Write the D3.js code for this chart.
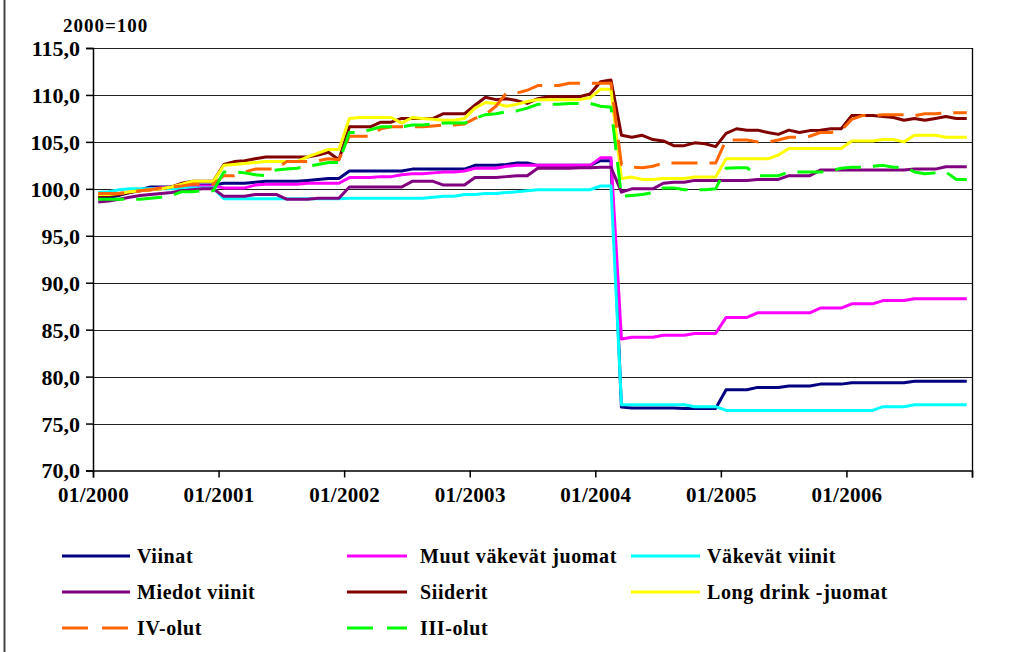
<!DOCTYPE html>
<html>
<head>
<meta charset="utf-8">
<script src="https://cdn.jsdelivr.net/npm/d3@7"></script>
<style>
body { margin: 0; background: #fff; }
text { font-family: "Liberation Serif", "Times New Roman", serif; font-weight: bold; fill: #000; }
</style>
</head>
<body>
<div id="chart"></div>
<script>
var width = 1036,
    height = 652;

// monthly index 2000=100, 01/2000 .. 12/2006
var tickLabels = ["01/2000", "01/2001", "01/2002", "01/2003", "01/2004", "01/2005", "01/2006", ""];
var seriesNames = ["Viinat", "Muut väkevät juomat", "Väkevät viinit", "Miedot viinit",
    "Siiderit", "Long drink -juomat", "IV-olut", "III-olut"];

var viinat = [
    99.0, 99.1, 99.3, 99.6, 99.9, 100.2, 100.2, 100.2, 100.3, 100.4, 100.4, 100.4,
    100.6, 100.6, 100.6, 100.7, 100.8, 100.8, 100.8, 100.8, 100.9, 101.0, 101.1, 101.1,
    101.9, 101.9, 101.9, 101.9, 101.9, 101.9, 102.1, 102.1, 102.1, 102.1, 102.1, 102.1,
    102.5, 102.5, 102.5, 102.6, 102.75, 102.75, 102.5, 102.5, 102.5, 102.5, 102.5, 102.5,
    103.0, 103.0, 76.75, 76.65, 76.65, 76.65, 76.65, 76.65, 76.6, 76.6, 76.6, 76.6,
    78.6, 78.6, 78.6, 78.85, 78.85, 78.85, 79.0, 79.0, 79.0, 79.2, 79.2, 79.2,
    79.35, 79.35, 79.35, 79.35, 79.35, 79.35, 79.5, 79.5, 79.5, 79.5, 79.5, 79.5];
var muutVakevat = [
    99.4, 99.4, 99.5, 99.7, 99.8, 100.0, 100.1, 100.2, 100.3, 100.3, 100.3, 100.3,
    100.1, 100.1, 100.1, 100.4, 100.5, 100.5, 100.5, 100.5, 100.6, 100.6, 100.6, 100.6,
    101.2, 101.2, 101.2, 101.3, 101.3, 101.5, 101.6, 101.6, 101.7, 101.8, 101.8, 101.9,
    102.2, 102.2, 102.2, 102.4, 102.5, 102.5, 102.5, 102.5, 102.5, 102.5, 102.5, 102.5,
    103.3, 103.3, 84.0, 84.2, 84.2, 84.2, 84.4, 84.4, 84.4, 84.6, 84.6, 84.6,
    86.3, 86.3, 86.3, 86.8, 86.8, 86.8, 86.8, 86.8, 86.8, 87.3, 87.3, 87.3,
    87.75, 87.75, 87.75, 88.1, 88.1, 88.1, 88.3, 88.3, 88.3, 88.3, 88.3, 88.3];
var vakevatViinit = [
    99.6, 99.7, 99.9, 100.0, 100.0, 100.0, 100.0, 100.0, 100.1, 100.1, 100.1, 100.1,
    98.95, 98.95, 98.95, 98.95, 98.95, 98.95, 98.95, 98.95, 98.95, 98.95, 98.95, 98.95,
    99.0, 99.0, 99.0, 99.0, 99.0, 99.0, 99.0, 99.0, 99.1, 99.2, 99.2, 99.4,
    99.4, 99.5, 99.5, 99.6, 99.7, 99.8, 99.9, 99.9, 99.9, 99.9, 99.9, 99.9,
    100.3, 100.3, 77.0, 77.0, 77.0, 77.0, 77.0, 77.0, 77.0, 76.8, 76.8, 76.8,
    76.4, 76.4, 76.4, 76.4, 76.4, 76.4, 76.4, 76.4, 76.4, 76.4, 76.4, 76.4,
    76.4, 76.4, 76.4, 76.8, 76.8, 76.8, 77.0, 77.0, 77.0, 77.0, 77.0, 77.0];
var miedotViinit = [
    98.6, 98.7, 98.9, 99.1, 99.3, 99.4, 99.5, 99.6, 99.8, 99.9, 100.0, 100.0,
    99.2, 99.2, 99.2, 99.4, 99.4, 99.4, 98.9, 98.9, 98.9, 99.0, 99.0, 99.0,
    100.2, 100.2, 100.2, 100.2, 100.2, 100.2, 100.8, 100.8, 100.8, 100.4, 100.4, 100.4,
    101.2, 101.2, 101.2, 101.3, 101.4, 101.4, 102.2, 102.2, 102.2, 102.2, 102.25, 102.25,
    102.3, 102.3, 99.65, 100.0, 100.0, 100.0, 100.6, 100.7, 100.7, 100.9, 100.9, 100.9,
    100.9, 100.9, 100.9, 101.0, 101.0, 101.0, 101.4, 101.4, 101.4, 102.0, 102.0, 102.0,
    102.0, 102.0, 102.0, 102.0, 102.0, 102.0, 102.1, 102.1, 102.1, 102.35, 102.35, 102.35];
var siiderit = [
    99.2, 99.3, 99.4, 99.6, 99.8, 99.9, 100.0, 100.2, 100.6, 100.8, 100.8, 100.8,
    102.6, 102.9, 103.0, 103.2, 103.4, 103.4, 103.4, 103.4, 103.4, 103.6, 103.9, 103.1,
    106.6, 106.6, 106.6, 107.1, 107.1, 107.5, 107.5, 107.5, 107.5, 108.0, 108.0, 108.0,
    108.9, 109.75, 109.5, 109.6, 109.4, 109.1, 109.6, 109.8, 109.8, 109.8, 109.8, 110.1,
    111.4, 111.6, 105.7, 105.5, 105.7, 105.25, 105.1, 104.6, 104.6, 104.9, 104.8, 104.5,
    105.9, 106.4, 106.25, 106.25, 106.0, 105.8, 106.25, 106.0, 106.2, 106.25, 106.4, 106.4,
    107.8, 107.8, 107.8, 107.7, 107.6, 107.3, 107.5, 107.3, 107.5, 107.7, 107.5, 107.5];
var longDrink = [
    99.4, 99.4, 99.5, 99.7, 99.8, 99.9, 100.0, 100.2, 100.5, 100.8, 100.8, 100.8,
    102.5, 102.6, 102.7, 102.8, 102.9, 102.9, 102.9, 102.9, 103.4, 103.8, 104.2, 104.2,
    107.5, 107.6, 107.6, 107.6, 107.6, 107.0, 107.6, 107.5, 107.4, 107.3, 107.3, 107.5,
    108.6, 109.2, 109.1, 108.8, 109.0, 109.3, 109.5, 109.5, 109.5, 109.5, 109.5, 109.7,
    110.6, 110.6, 101.1, 101.25, 101.0, 101.0, 101.1, 101.1, 101.1, 101.25, 101.25, 101.25,
    103.2, 103.2, 103.2, 103.2, 103.2, 103.6, 104.3, 104.3, 104.3, 104.3, 104.3, 104.3,
    105.1, 105.1, 105.1, 105.25, 105.25, 105.0, 105.7, 105.7, 105.7, 105.5, 105.5, 105.5];
var ivOlut = [
    99.5, 99.5, 99.5, 99.6, 99.8, 99.9, 100.1, 100.2, 100.3, 100.5, 100.5, 100.5,
    101.4, 101.4, 101.8, 102.1, 102.1, 102.1, 102.9, 102.9, 102.9, 103.0, 103.2, 103.1,
    105.6, 105.6, 105.6, 106.4, 106.6, 106.6, 106.6, 106.6, 106.7, 106.8, 106.8, 106.9,
    107.5, 107.9, 108.8, 110.2, 110.2, 110.5, 111.0, 111.0, 111.0, 111.25, 111.25, 111.25,
    111.25, 111.25, 102.6, 102.3, 102.25, 102.4, 102.75, 102.75, 102.75, 102.75, 102.75, 102.75,
    105.2, 105.2, 105.2, 105.0, 105.0, 105.2, 105.5, 105.5, 105.6, 106.0, 106.0, 106.2,
    107.4, 107.8, 107.8, 107.9, 107.9, 107.9, 107.8, 108.0, 108.0, 108.1, 108.1, 108.1];
var iiiOlut = [
    98.9, 98.9, 98.9, 98.9, 98.9, 99.0, 99.1, 99.3, 99.7, 99.7, 99.8, 99.8,
    101.8, 101.8, 101.7, 101.5, 101.4, 102.0, 102.1, 102.2, 102.4, 102.6, 102.8, 102.8,
    106.0, 106.0, 106.3, 106.6, 106.6, 106.6, 106.8, 106.8, 106.9, 107.0, 107.0, 107.0,
    107.5, 107.9, 108.0, 108.2, 108.3, 108.6, 109.0, 109.0, 109.0, 109.1, 109.1, 109.1,
    108.8, 108.7, 99.2, 99.3, 99.4, 99.6, 100.1, 100.1, 99.9, 99.9, 99.9, 100.0,
    102.2, 102.25, 102.25, 101.4, 101.4, 101.4, 101.8, 101.8, 101.8, 101.8, 101.9, 102.2,
    102.3, 102.3, 102.4, 102.5, 102.3, 102.3, 101.8, 101.6, 101.7, 101.8, 101.0, 101.0];

var allSeries = [viinat, muutVakevat, vakevatViinit, miedotViinit, siiderit, longDrink, ivOlut, iiiOlut];
var lineColors = ["#000080", "#ff00ff", "#00ffff", "#800080", "#800000", "#ffff00", "#ff6600", "#00ff00"];
var lineDash = [null, null, null, null, null, null, "26,12", "26,12"];

var svg = d3.select("#chart").append("svg")
    .attr("width", width)
    .attr("height", height);

var plotLeft = 93, plotRight = 972, plotTop = 48, plotBottom = 470.5;

var x = d3.scaleLinear().domain([0, 84]).range([plotLeft, plotRight]);
var y = d3.scaleLinear().domain([70, 115]).range([plotBottom, plotTop]);

// outer frame edge
svg.append("line")
    .attr("x1", 4.5).attr("x2", 4.5)
    .attr("y1", 0).attr("y2", height)
    .style("stroke", "#444")
    .style("stroke-width", 2);

// gridlines
svg.selectAll(".grid")
    .data(d3.range(75, 116, 5))
    .enter().append("line")
    .attr("class", "grid")
    .attr("x1", plotLeft).attr("x2", plotRight)
    .attr("y1", function (d) { return Math.round(y(d)) + 0.5; })
    .attr("y2", function (d) { return Math.round(y(d)) + 0.5; })
    .style("stroke", "#222")
    .style("stroke-width", 1);

svg.append("line")
    .attr("x1", plotRight + 0.5).attr("x2", plotRight + 0.5)
    .attr("y1", plotTop).attr("y2", plotBottom)
    .style("stroke", "#000")
    .style("stroke-width", 1.3);

var yAxis = svg.append("g")
    .attr("transform", "translate(" + plotLeft + ",0)")
    .call(d3.axisLeft(y)
        .tickValues(d3.range(70, 116, 5))
        .tickSize(7)
        .tickPadding(6)
        .tickFormat(function (d) { return d3.format(".1f")(d).replace(".", ","); }));
yAxis.selectAll("text").attr("font-size", "22px").attr("dy", ".34em");

var xAxis = svg.append("g")
    .attr("transform", "translate(0," + plotBottom + ")")
    .call(d3.axisBottom(x)
        .tickValues(d3.range(0, 85, 12))
        .tickSize(7)
        .tickFormat(function (d, i) { return tickLabels[i]; }));
xAxis.selectAll("text").attr("font-size", "21px").attr("letter-spacing", "0.3px").attr("y", 31).attr("dy", 0);

svg.selectAll(".domain, .tick line")
    .style("stroke", "#000")
    .style("stroke-width", 1.5);

svg.append("text")
    .attr("x", 63)
    .attr("y", 32)
    .attr("font-size", "19px")
    .attr("letter-spacing", "1px")
    .text("2000=100");

var line = d3.line()
    .x(function (d, i) { return x(i + 0.5); })
    .y(function (d) { return y(d); });

svg.selectAll(".series")
    .data(allSeries)
    .enter().append("path")
    .attr("class", "series")
    .attr("d", line)
    .style("fill", "none")
    .style("stroke", function (d, i) { return lineColors[i]; })
    .style("stroke-dasharray", function (d, i) { return lineDash[i]; })
    .style("stroke-width", 3)
    .style("stroke-linejoin", "round");

// legend, three columns
var legCols = [[62, 130, 137], [347, 407, 420], [631, 700, 707]];
var legRows = [556, 592, 628];
var leg = svg.selectAll(".leg")
    .data(seriesNames)
    .enter().append("g")
    .attr("class", "leg")
    .attr("transform", function (d, i) {
        return "translate(0," + legRows[Math.floor(i / 3)] + ")";
    });
leg.append("line")
    .attr("x1", function (d, i) { return legCols[i % 3][0]; })
    .attr("x2", function (d, i) { return legCols[i % 3][1]; })
    .style("stroke", function (d, i) { return lineColors[i]; })
    .style("stroke-dasharray", function (d, i) { return lineDash[i] ? "26,14" : null; })
    .style("stroke-width", 3);
leg.append("text")
    .attr("x", function (d, i) { return legCols[i % 3][2]; })
    .attr("y", 6.5)
    .attr("font-size", "20px")
    .attr("letter-spacing", "0.6px")
    .text(function (d) { return d; });
</script>
</body>
</html>
